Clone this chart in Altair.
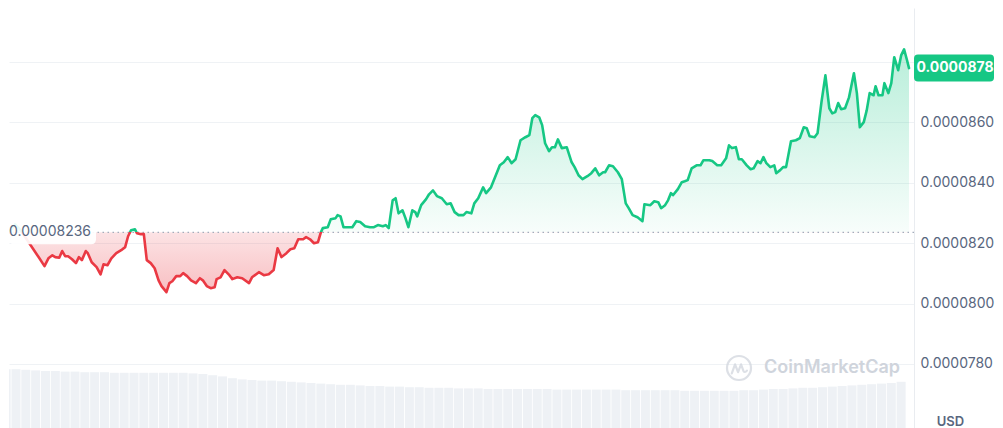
import altair as alt
import pandas as pd

# ---- data (time in minutes from start, price in units of 1e-7 USD)
t_min = [
    0, 6, 13.5, 21, 30, 40.5, 49.5, 58.5, 64.5, 70.5,
    75, 81, 85.5, 90, 94.5, 100.5, 106.5, 111, 115.5, 121.5,
    124.5, 130.5, 138, 144, 148.5, 154.5, 160.5, 168, 175.5, 181.5,
    186, 190.5, 196.5, 199.5, 205.5, 210, 214.5, 220.5, 226.5, 232.5,
    237, 244.5, 249, 253.5, 259.5, 265.5, 270, 276, 282, 289.5,
    295.5, 300, 306, 312, 318, 321, 327, 333, 340.5, 345,
    352.5, 360, 370.5, 375, 385.5, 393, 400.5, 408, 414, 420,
    427.5, 433.5, 439.5, 445.5, 453, 457.5, 463.5, 469.5, 475.5, 480,
    483, 490.5, 495, 502.5, 505.5, 510, 514.5, 522, 528, 534,
    540, 547.5, 555, 561, 567, 574.5, 579, 583.5, 589.5, 594,
    598.5, 604.5, 609, 613.5, 619.5, 624, 627, 633, 640.5, 645,
    651, 657, 664.5, 672, 678, 684, 690, 697.5, 702, 709.5,
    714, 720, 727.5, 732, 739.5, 753, 759, 765, 771, 777,
    784.5, 792, 798, 802.5, 807, 813, 817.5, 822, 828, 832.5,
    837, 841.5, 847.5, 855, 862.5, 867, 873, 879, 886.5, 892.5,
    898.5, 904.5, 910.5, 913.5, 919.5, 925.5, 933, 939, 945, 949.5,
    955.5, 963, 970.5, 973.5, 982.5, 988.5, 994.5, 999, 1005, 1009.5,
    1014, 1017, 1024.5, 1030.5, 1035, 1039.5, 1045.5, 1053, 1059, 1063.5,
    1072.5, 1077, 1084.5, 1090.5, 1098, 1102.5, 1107, 1113, 1117.5, 1122,
    1129.5, 1135.5, 1140, 1146, 1150.5, 1155, 1159.5, 1165.5, 1171.5, 1174.5,
    1180.5, 1185, 1189.5, 1197, 1204.5, 1210.5, 1216.5, 1221, 1225.5, 1233,
    1237.5, 1243.5, 1249.5, 1255.5, 1260, 1264.5, 1269, 1273.5, 1279.5, 1285.5,
    1293, 1297.5, 1302, 1308, 1312.5, 1317, 1323, 1326, 1330.5, 1336.5,
    1339.5, 1345.5, 1350, 1354.5, 1360.5, 1365, 1369.5, 1374, 1377,
]
price_e7 = [
    822.6, 824.0, 826.3, 824.6, 821.7, 818.3, 815.4, 812.4, 815.0, 816.0,
    815.4, 815.2, 817.4, 815.7, 815.7, 814.7, 813.4, 815.4, 814.4, 817.4,
    816.7, 813.7, 812.1, 809.7, 813.0, 812.7, 815.0, 816.7, 817.7, 818.7,
    822.3, 824.3, 824.6, 823.3, 823.0, 823.0, 814.4, 813.4, 811.7, 807.7,
    805.8, 803.8, 806.8, 807.4, 809.1, 809.1, 810.1, 809.1, 807.7, 806.8,
    808.4, 807.7, 805.8, 805.1, 805.4, 808.1, 808.7, 811.1, 809.4, 808.1,
    808.7, 808.4, 806.8, 808.7, 810.4, 809.4, 809.7, 811.1, 818.3, 815.4,
    816.7, 818.0, 818.3, 821.3, 821.3, 822.0, 821.3, 820.0, 820.3, 823.6,
    825.0, 825.3, 827.9, 828.3, 829.3, 828.9, 825.3, 825.3, 825.3, 827.3,
    827.0, 825.6, 825.3, 825.3, 826.0, 825.6, 826.0, 825.0, 834.2, 834.9,
    829.9, 830.9, 828.3, 825.3, 830.9, 830.3, 828.9, 832.6, 834.6, 836.2,
    837.5, 835.6, 834.9, 832.9, 833.2, 830.3, 829.3, 829.3, 830.3, 829.9,
    833.2, 834.9, 838.5, 836.6, 838.5, 845.8, 846.8, 848.5, 846.5, 847.8,
    854.1, 855.1, 855.8, 861.4, 862.4, 861.7, 859.1, 853.1, 850.5, 851.8,
    851.8, 854.4, 851.5, 851.8, 846.8, 845.2, 842.5, 841.2, 842.2, 843.2,
    844.8, 842.5, 843.5, 843.5, 845.8, 845.5, 843.5, 841.2, 833.2, 831.6,
    829.3, 828.6, 827.3, 832.9, 832.6, 833.9, 833.6, 831.6, 832.6, 834.2,
    836.6, 835.9, 837.9, 840.2, 840.5, 840.9, 844.8, 845.8, 845.8, 847.5,
    847.5, 847.2, 845.8, 845.8, 848.1, 852.4, 851.5, 851.8, 847.8, 847.8,
    845.8, 844.5, 844.8, 847.2, 846.5, 848.5, 846.5, 845.2, 845.8, 843.2,
    844.2, 845.2, 845.2, 853.8, 854.1, 854.8, 858.4, 858.1, 855.4, 855.1,
    856.4, 866.7, 875.6, 864.7, 863.0, 863.4, 866.4, 864.4, 864.7, 868.3,
    876.3, 869.7, 858.4, 860.1, 864.0, 869.7, 869.0, 872.0, 869.0, 869.0,
    873.0, 869.7, 873.0, 881.6, 877.3, 882.2, 884.2, 880.6, 878.0,
]
# volume bars, one every 15 minutes (arbitrary units)
volume = [
    98, 98, 97, 96, 95, 95, 94, 94, 93, 93,
    93, 92, 92, 92, 92, 92, 92, 92, 92, 91,
    90, 88, 86, 83, 81, 80, 79, 79, 78, 77,
    76, 75, 74, 73, 72, 72, 71, 70, 70, 69,
    69, 68, 68, 67, 67, 67, 66, 66, 66, 65,
    65, 65, 65, 65, 65, 65, 64, 64, 64, 64,
    64, 64, 64, 63, 63, 63, 63, 63, 63, 62,
    62, 62, 62, 62, 62, 63, 63, 64, 65, 65,
    66, 67, 67, 68, 69, 70, 71, 72, 73, 74,
    75, 77,
]
vol_step_min = 15
base_e7 = 823.6
tick_e7 = [780, 800, 820, 840, 860, 880]
y_domain_e7 = [758.8, 897.9]
x_domain = [12, 1377]
vol_domain = [0, 700]

GREEN = "#16c784"
RED = "#ea3943"
LABEL = "#58667e"
WM = "#cfd4dc"

price = [v * 1e-7 for v in price_e7]
base = base_e7 * 1e-7
df = pd.DataFrame({"t": t_min, "price": price})
vol_df = pd.DataFrame({"t": [i * vol_step_min for i in range(len(volume))], "volume": volume})
base_df = pd.DataFrame({"base": [base]})
last_df = pd.DataFrame({"last": [price[-1]]})
one = pd.DataFrame({"k": [0]})

pmax, pmin = max(price), min(price)
off = (pmax - base) / (pmax - pmin)

W = 905
H = 420

xs = alt.Scale(domain=x_domain, nice=False, zero=False)
ys = alt.Scale(domain=[v * 1e-7 for v in y_domain_e7], nice=False, zero=False)
yax = alt.Axis(
    orient="right",
    values=[v * 1e-7 for v in tick_e7],
    labelExpr="datum.value > 0.0000875 ? '' : format(datum.value, '.7f')",
    labelFont="Inter", labelFontSize=14, labelColor=LABEL, labelPadding=6,
    ticks=False, domain=True, domainColor="#e9ecf0", domainWidth=1,
    grid=True, gridColor="#eff2f5", gridWidth=1,
    title="USD", titleAngle=0, titleX=36, titleY=413, titleAlign="center",
    titleBaseline="middle", titleFont="Inter", titleFontSize=13,
    titleFontWeight=600, titleColor=LABEL,
)
X = alt.X("t:Q", scale=xs, axis=None)

line_grad = alt.Gradient(
    gradient="linear", x1=0, x2=0, y1=0, y2=1,
    stops=[alt.GradientStop(offset=0, color=GREEN), alt.GradientStop(offset=off, color=GREEN),
           alt.GradientStop(offset=off, color=RED), alt.GradientStop(offset=1, color=RED)],
)
area_grad = alt.Gradient(
    gradient="linear", x1=0, x2=0, y1=0, y2=1,
    stops=[alt.GradientStop(offset=0, color="rgba(22,199,132,0.30)"),
           alt.GradientStop(offset=off, color="rgba(22,199,132,0.03)"),
           alt.GradientStop(offset=off, color="rgba(234,57,67,0.14)"),
           alt.GradientStop(offset=1, color="rgba(234,57,67,0.32)")],
)

def rr_path(w, h, r):
    hw = 1.0
    hh = h / w
    rx = 2 * r / w
    return (f"M{-hw + rx},{-hh} L{hw - rx},{-hh} Q{hw},{-hh} {hw},{-hh + rx} "
            f"L{hw},{hh - rx} Q{hw},{hh} {hw - rx},{hh} L{-hw + rx},{hh} "
            f"Q{-hw},{hh} {-hw},{hh - rx} L{-hw},{-hh + rx} Q{-hw},{-hh} {-hw + rx},{-hh} Z")

vol = alt.Chart(vol_df).mark_bar(size=9, color="#eef1f5", clip=True).encode(
    x=X, y=alt.Y("volume:Q", scale=alt.Scale(domain=vol_domain, nice=False), axis=None)
)

area = alt.Chart(df).mark_area(fill=area_grad, line=False, clip=True).encode(
    x=X, y=alt.Y("price:Q", scale=ys, axis=yax), y2=alt.datum(base)
)
rule = alt.Chart(base_df).mark_rule(color="#a3acbb", strokeDash=[1.5, 3.5], strokeWidth=1.2).encode(
    y=alt.Y("base:Q", scale=ys, axis=yax)
)
line = alt.Chart(df).mark_line(
    stroke=line_grad, strokeWidth=2.6, strokeJoin="round", strokeCap="round", clip=True
).encode(x=X, y=alt.Y("price:Q", scale=ys, axis=yax))
box = alt.Chart(base_df).mark_point(
    shape=rr_path(87, 24, 5), size=87 ** 2, filled=True, fill="white", fillOpacity=0.92, strokeOpacity=0
).encode(x=alt.value(43.5), y=alt.Y("base:Q", scale=ys, axis=yax))
box_text = alt.Chart(base_df).mark_text(
    align="left", baseline="middle", font="Inter", fontSize=14, color=LABEL
).encode(x=alt.value(0), y=alt.Y("base:Q", scale=ys, axis=yax), text=alt.Text("base:Q", format=".8f"))

badge = alt.Chart(last_df).mark_point(
    shape=rr_path(80, 27, 4), size=80 ** 2, filled=True, fill=GREEN, opacity=1, strokeOpacity=0
).encode(x=alt.value(W + 40), y=alt.Y("last:Q", scale=ys, axis=yax))
badge_text = alt.Chart(last_df).mark_text(
    align="center", baseline="middle", font="Inter", fontSize=14, fontWeight="bold", color="white"
).encode(x=alt.value(W + 41), y=alt.Y("last:Q", scale=ys, axis=yax), text=alt.Text("last:Q", format=".7f"))

wm_circle = alt.Chart(one).mark_point(shape="circle", size=576, filled=False, stroke=WM, strokeWidth=2.2).encode(
    x=alt.value(730), y=alt.value(360)
)
wm_wave = alt.Chart(one).mark_point(
    shape="M-0.6,0.45 L-0.33,-0.3 L-0.08,0.35 L0.17,-0.3 L0.36,0.22 Q0.48,0.45 0.66,0.22",
    size=576, filled=False, stroke=WM, strokeWidth=2.2, strokeJoin="round", strokeCap="round",
).encode(x=alt.value(730), y=alt.value(360))
wm_text = alt.Chart(one).mark_text(
    text="CoinMarketCap", align="left", baseline="middle", font="Inter", fontSize=18, fontWeight=600, color=WM
).encode(x=alt.value(755), y=alt.value(360))

price_layer = alt.layer(area, rule, line, wm_circle, wm_wave, wm_text, box, box_text, badge, badge_text)

chart = (
    alt.layer(vol, price_layer)
    .resolve_scale(y="independent")
    .properties(width=W, height=H, padding=0, background="white")
    .configure(font="Inter", view=alt.ViewConfig(stroke=None))
)

chart.save("out.html", embed_options={"renderer": "svg", "actions": False})
